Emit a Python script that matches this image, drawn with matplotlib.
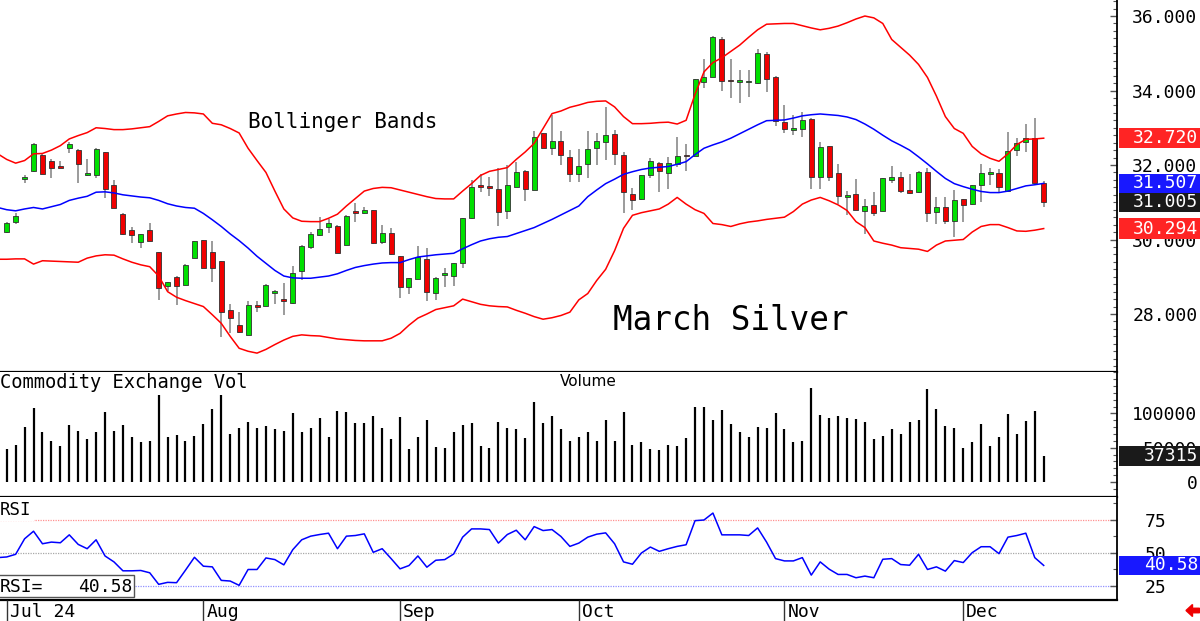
import numpy as np
import matplotlib
matplotlib.use("Agg")
import matplotlib.pyplot as plt
from matplotlib.patches import Rectangle, FancyArrow
from matplotlib.ticker import FixedLocator, MultipleLocator, FuncFormatter
import matplotlib.transforms as mtransforms

# ---------------- data (March Silver, daily, Jul 1 - Dec 13) ----------------
opens = [30.19, 30.48, 31.62, 31.85, 32.27, 32.11, 31.98, 32.45, 32.40, 31.73,
         31.73, 32.34, 31.45, 30.68, 30.25, 29.94, 30.25, 29.66, 28.76, 29.00,
         28.78, 29.51, 29.99, 29.66, 29.42, 28.11, 27.71, 27.44, 28.24, 28.22,
         28.57, 28.40, 28.29, 29.16, 29.79, 30.12, 30.33, 30.37, 29.85, 30.74,
         30.70, 30.79, 29.92, 30.18, 29.56, 28.72, 28.94, 29.48, 28.57, 29.04,
         29.03, 29.36, 30.57, 31.45, 31.41, 31.36, 30.77, 31.42, 31.85, 31.33,
         32.85, 32.45, 32.64, 32.22, 31.76, 32.02, 32.45, 32.63, 32.82, 32.27,
         31.22, 31.08, 31.73, 32.06, 31.79, 32.03, 32.25, 32.24, 34.24, 34.37,
         35.38, 34.27, 34.22, 34.22, 34.19, 34.99, 34.35, 33.16, 32.94, 32.98,
         33.24, 31.67, 32.51, 31.79, 31.15, 31.21, 30.77, 30.93, 30.77, 31.60,
         31.69, 31.33, 31.27, 31.80, 30.73, 30.88, 30.51, 31.09, 30.94, 31.45,
         31.77, 31.78, 31.31, 32.40, 32.61, 32.73, 31.51]
highs = [30.46, 30.70, 31.73, 32.58, 32.31, 32.15, 32.11, 32.63, 32.42, 32.15,
         32.46, 32.36, 31.60, 30.70, 30.33, 30.15, 30.43, 29.67, 28.86, 29.01,
         29.34, 29.97, 30.00, 29.96, 29.43, 28.27, 28.05, 28.35, 28.35, 28.80,
         28.64, 28.82, 29.30, 29.84, 30.21, 30.61, 30.54, 30.38, 30.65, 30.97,
         30.86, 30.80, 30.39, 30.32, 29.57, 28.97, 29.83, 29.76, 28.99, 29.23,
         29.37, 30.58, 31.60, 31.75, 31.67, 31.91, 32.00, 32.09, 31.86, 32.90,
         32.86, 33.34, 32.90, 32.40, 32.44, 32.91, 32.85, 33.57, 32.94, 32.36,
         31.37, 31.74, 32.20, 32.07, 32.22, 32.74, 32.56, 34.32, 34.84, 35.47,
         35.45, 34.84, 34.55, 34.55, 35.11, 35.04, 34.39, 33.61, 33.34, 33.43,
         33.25, 32.63, 32.52, 32.03, 31.31, 31.62, 31.10, 31.27, 31.65, 31.97,
         31.82, 31.76, 31.84, 31.91, 31.13, 31.15, 31.33, 31.10, 31.47, 32.02,
         31.91, 31.89, 32.89, 32.72, 33.10, 33.25, 31.58]
lows = [30.17, 30.42, 31.51, 31.82, 31.76, 31.64, 31.92, 32.33, 31.51, 31.70,
        31.64, 31.12, 30.85, 30.12, 29.90, 29.76, 29.95, 28.38, 28.63, 28.24,
        28.77, 29.50, 29.23, 28.85, 27.37, 27.48, 27.50, 27.43, 28.05, 28.21,
        28.27, 27.97, 28.28, 28.91, 29.75, 30.10, 30.17, 29.64, 29.84, 30.48,
        30.68, 29.89, 29.88, 29.59, 28.42, 28.54, 28.93, 28.36, 28.37, 28.73,
        28.76, 29.23, 30.56, 31.28, 31.18, 30.37, 30.55, 31.41, 31.03, 31.32,
        32.46, 32.27, 32.00, 31.55, 31.55, 31.64, 32.00, 32.13, 32.00, 30.70,
        30.79, 31.07, 31.64, 31.28, 31.35, 31.96, 31.85, 32.23, 34.06, 34.36,
        34.00, 33.79, 33.66, 33.82, 34.18, 33.97, 33.05, 32.87, 32.81, 32.74,
        31.35, 31.35, 31.58, 30.95, 30.66, 30.78, 30.14, 30.63, 30.76, 31.51,
        31.24, 31.23, 31.24, 30.48, 30.41, 30.41, 30.06, 30.46, 30.93, 31.00,
        31.45, 31.24, 31.28, 32.25, 32.34, 31.51, 30.86]
closes = [30.43, 30.63, 31.69, 32.56, 31.76, 31.93, 31.93, 32.56, 32.02, 31.75,
          32.42, 31.35, 30.85, 30.14, 30.12, 30.14, 29.96, 28.71, 28.85, 28.76,
          29.32, 29.96, 29.24, 29.23, 28.05, 27.90, 27.51, 28.24, 28.20, 28.78,
          28.63, 28.35, 29.11, 29.83, 30.14, 30.27, 30.43, 29.65, 30.64, 30.72,
          30.79, 29.90, 30.17, 29.60, 28.72, 28.96, 29.54, 28.60, 28.98, 29.09,
          29.36, 30.57, 31.42, 31.40, 31.39, 30.73, 31.45, 31.82, 31.35, 32.74,
          32.47, 32.64, 32.27, 31.76, 31.98, 32.43, 32.65, 32.80, 32.30, 31.28,
          31.06, 31.73, 32.11, 31.84, 32.06, 32.24, 32.23, 34.31, 34.37, 35.45,
          34.26, 34.25, 34.27, 34.24, 35.02, 34.30, 33.18, 32.96, 32.96, 33.21,
          31.69, 32.49, 31.69, 31.17, 31.19, 30.79, 30.91, 30.70, 31.64, 31.67,
          31.31, 31.24, 31.80, 30.72, 30.86, 30.51, 31.06, 30.93, 31.46, 31.78,
          31.79, 31.42, 32.38, 32.58, 32.73, 31.51, 31.005]
volume = [48200, 54500, 80300, 107600, 72500, 59900, 53000, 83200, 74500, 62800,
          73500, 101700, 74500, 83200, 65200, 58400, 59400, 127000, 66200, 68600,
          59400, 67600, 84200, 106600, 126500, 70100, 79300, 87100, 79300, 81800,
          77400, 74500, 100700, 72500, 79300, 93400, 65200, 103200, 101700, 85600,
          85600, 95900, 78300, 62800, 94900, 48700, 66200, 90000, 51100, 49600,
          72500, 83200, 86100, 52100, 49600, 87600, 78300, 76900, 63800, 117300,
          86600, 95900, 76900, 59400, 65200, 72500, 59900, 90500, 59900, 102200,
          54500, 58400, 47700, 46200, 54500, 52600, 64200, 109500, 109500, 90500,
          105600, 84700, 73500, 65700, 79800, 78300, 101200, 76900, 58400, 59900,
          136800, 97800, 93000, 96400, 93000, 91500, 88100, 62800, 66700, 77400,
          70600, 87100, 90500, 135300, 106600, 82200, 78300, 50100, 58900, 84700,
          53000, 65700, 98800, 70600, 89100, 103200, 37315]
# indicator series start one session earlier (index -1)
upper_band = [32.30,
              32.15, 32.05, 32.12, 32.30, 32.31, 32.40, 32.52, 32.70, 32.79, 32.87,
              33.00, 32.98, 32.95, 32.95, 32.97, 33.00, 33.03, 33.17, 33.32, 33.37,
              33.41, 33.40, 33.37, 33.12, 33.08, 32.98, 32.86, 32.45, 32.12, 31.80,
              31.30, 30.82, 30.58, 30.49, 30.48, 30.48, 30.57, 30.68, 30.90, 31.10,
              31.30, 31.37, 31.40, 31.39, 31.33, 31.27, 31.21, 31.15, 31.10, 31.09,
              31.09, 31.30, 31.50, 31.72, 31.83, 31.88, 31.93, 32.15, 32.35, 32.58,
              32.98, 33.38, 33.45, 33.55, 33.61, 33.68, 33.71, 33.72, 33.56, 33.30,
              33.11, 33.11, 33.12, 33.14, 33.15, 33.10, 33.20, 33.90, 34.50, 34.75,
              34.88, 35.05, 35.22, 35.43, 35.63, 35.78, 35.79, 35.80, 35.80, 35.74,
              35.68, 35.63, 35.67, 35.73, 35.82, 35.92, 36.00, 35.95, 35.80, 35.37,
              35.16, 34.95, 34.70, 34.35, 33.85, 33.30, 32.98, 32.85, 32.50, 32.30,
              32.18, 32.10, 32.30, 32.55, 32.69, 32.70, 32.72]
middle_band = [30.86,
               30.80, 30.77, 30.82, 30.86, 30.82, 30.88, 30.94, 31.05, 31.11, 31.16,
               31.27, 31.28, 31.25, 31.20, 31.17, 31.14, 31.12, 31.05, 30.96, 30.90,
               30.86, 30.84, 30.70, 30.53, 30.35, 30.15, 29.97, 29.77, 29.55, 29.36,
               29.17, 29.02, 28.97, 28.96, 28.96, 28.99, 29.02, 29.08, 29.17, 29.25,
               29.30, 29.34, 29.37, 29.38, 29.38, 29.46, 29.53, 29.56, 29.59, 29.61,
               29.63, 29.75, 29.86, 29.96, 30.02, 30.06, 30.08, 30.16, 30.24, 30.32,
               30.43, 30.54, 30.66, 30.78, 30.90, 31.15, 31.33, 31.50, 31.62, 31.75,
               31.82, 31.88, 31.92, 31.94, 31.96, 32.02, 32.09, 32.28, 32.45, 32.54,
               32.62, 32.72, 32.84, 32.96, 33.08, 33.19, 33.20, 33.21, 33.26, 33.32,
               33.35, 33.37, 33.35, 33.33, 33.29, 33.22, 33.10, 32.96, 32.80, 32.65,
               32.53, 32.40, 32.22, 32.03, 31.83, 31.64, 31.50, 31.42, 31.35, 31.29,
               31.26, 31.26, 31.30, 31.37, 31.44, 31.47, 31.507]
lower_band = [29.47,
              29.47, 29.48, 29.48, 29.34, 29.43, 29.42, 29.41, 29.40, 29.39, 29.50,
              29.56, 29.59, 29.58, 29.48, 29.39, 29.32, 29.27, 29.02, 28.60, 28.45,
              28.36, 28.28, 28.20, 27.98, 27.75, 27.40, 27.08, 27.00, 26.95, 27.05,
              27.18, 27.30, 27.40, 27.44, 27.42, 27.41, 27.37, 27.33, 27.31, 27.29,
              27.28, 27.28, 27.28, 27.35, 27.48, 27.70, 27.89, 28.00, 28.12, 28.17,
              28.22, 28.40, 28.33, 28.26, 28.22, 28.20, 28.19, 28.10, 28.02, 27.93,
              27.86, 27.90, 27.96, 28.05, 28.38, 28.55, 28.90, 29.20, 29.70, 30.30,
              30.65, 30.72, 30.77, 30.82, 30.95, 31.13, 30.95, 30.80, 30.70, 30.43,
              30.40, 30.35, 30.42, 30.47, 30.50, 30.54, 30.57, 30.60, 30.75, 30.95,
              31.06, 31.13, 31.04, 30.93, 30.78, 30.48, 30.32, 29.96, 29.90, 29.85,
              29.78, 29.76, 29.74, 29.68, 29.85, 29.96, 29.98, 30.00, 30.20, 30.35,
              30.40, 30.40, 30.32, 30.23, 30.22, 30.25, 30.294]
rsi = [46.5,
       47.0, 49.0, 60.75, 66.5, 57.0, 58.25, 57.75, 63.75, 56.5, 53.25,
       60.0, 47.75, 43.25, 36.5, 36.5, 36.75, 35.0, 26.25, 27.75, 27.5,
       37.0, 46.75, 40.0, 39.5, 29.25, 28.75, 25.5, 37.5, 37.5, 46.25,
       45.0, 41.0, 52.5, 60.0, 62.75, 64.0, 65.0, 53.25, 62.75, 63.25,
       64.5, 50.5, 53.25, 45.75, 38.0, 40.5, 47.75, 39.25, 44.5, 45.0,
       49.25, 62.0, 68.25, 68.25, 67.75, 57.5, 64.0, 67.25, 60.0, 70.0,
       67.0, 67.75, 62.5, 55.0, 57.5, 62.0, 64.25, 65.25, 57.0, 43.25,
       41.5, 50.0, 54.5, 51.25, 53.25, 55.0, 56.25, 74.5, 75.0, 80.25,
       63.75, 63.75, 63.75, 63.25, 69.0, 58.25, 45.75, 44.0, 44.0, 46.5,
       33.25, 43.25, 37.75, 33.75, 33.75, 31.25, 32.5, 31.25, 45.25, 45.75,
       41.25, 40.75, 49.0, 37.5, 39.5, 36.25, 44.25, 42.75, 50.25, 54.75,
       54.75, 49.5, 62.0, 63.25, 65.0, 46.5, 40.58]
month_labels = ["Jul 24", "Aug", "Sep", "Oct", "Nov", "Dec"]
month_index = [0, 22, 44, 64, 87, 107]
price_ticks = [28, 30, 32, 34, 36]
volume_ticks = [0, 50000, 100000]
rsi_ticks = [25, 50, 75]
rsi_levels = [75, 50, 25]

# ---------------- figure layout ----------------
plt.rcParams['font.family'] = ['DejaVu Sans Mono', 'DejaVu Sans']
W, H = 1200, 621
fig = plt.figure(figsize=(12, 6.21), dpi=100)
fig.patch.set_facecolor('white')
PLOT_R = 1117


def rect(top, bottom):
    return [0, (H - bottom) / H, PLOT_R / W, (bottom - top) / H]


ax_p = fig.add_axes(rect(0, 372))
ax_v = fig.add_axes(rect(372, 497), sharex=ax_p)
ax_r = fig.add_axes(rect(497, 600), sharex=ax_p)
ax_d = fig.add_axes(rect(600, 621), sharex=ax_p)

o = np.array(opens); h = np.array(highs); l = np.array(lows); c = np.array(closes)
x = np.arange(len(c))
xi = np.arange(-1, len(c))

# ---------------- price panel ----------------
up = c >= o
cols = np.where(up, '#00e000', '#f00000')
ax_p.vlines(x, l, h, color='#808080', lw=1.1, zorder=2)
ax_p.bar(x, np.maximum(np.abs(c - o), 0.045), bottom=np.minimum(o, c), width=0.56,
         color=cols, edgecolor='#303030', linewidth=0.6, zorder=3)
ax_p.plot(xi, upper_band, color='#ff0000', lw=1.1, zorder=4)
ax_p.plot(xi, lower_band, color='#ff0000', lw=1.1, zorder=4)
ax_p.plot(xi, middle_band, color='#0000ff', lw=1.1, zorder=4)
ax_p.text(248 / PLOT_R, 1 - 122 / 372, 'Bollinger Bands', transform=ax_p.transAxes,
          fontsize=15, va='center', ha='left')
ax_p.text(613 / PLOT_R, 1 - 321 / 372, 'March Silver', transform=ax_p.transAxes,
          fontsize=23.5, va='center', ha='left')

# ---------------- volume panel ----------------
ax_v.vlines(x, 0, volume, color='black', lw=1.6)
ax_v.text(0.0, (497 - 383) / 125, 'Commodity Exchange Vol', transform=ax_v.transAxes,
          fontsize=13.5, va='center', ha='left')
ax_v.text(560 / PLOT_R, (497 - 382) / 125, 'Volume', transform=ax_v.transAxes,
          fontsize=11, va='center', ha='left', family='DejaVu Sans')

# ---------------- RSI panel ----------------
for lev, lc in zip(rsi_levels, ['#ff9090', '#a8a8a8', '#9090ff']):
    ax_r.axhline(lev, color=lc, lw=0.9, ls=(0, (1, 1)), zorder=1)
ax_r.plot(xi, rsi, color='#0000ff', lw=1.1, zorder=3)
ax_r.text(0.0, (600 - 510) / 103, 'RSI', transform=ax_r.transAxes, fontsize=12.5,
          va='center', ha='left', zorder=6,
          bbox=dict(facecolor='white', edgecolor='none', pad=1.5))
ax_r.add_patch(Rectangle((-0.01, 3 / 103), 0.01 + 134 / PLOT_R, 22 / 103,
                         transform=ax_r.transAxes, facecolor='white',
                         edgecolor='#555555', lw=1.0, zorder=5, clip_on=False))
ax_r.text(0.0, (600 - 587) / 103, 'RSI=', transform=ax_r.transAxes, fontsize=13,
          va='center', ha='left', zorder=6)
ax_r.text(132 / PLOT_R, (600 - 587) / 103, f'{rsi[-1]:.2f}', transform=ax_r.transAxes,
          fontsize=13, va='center', ha='right', zorder=6)

# ---------------- axes styling ----------------
XLIM = (-0.75, 124.2)
ax_p.set_xlim(*XLIM)
ax_p.set_ylim(26.443, 36.43)
ax_v.set_ylim(-21898, 160584)
ax_r.set_ylim(14.39, 92.42)

for ax in (ax_p, ax_v, ax_r):
    ax.set_facecolor('white')
    ax.spines['top'].set_visible(False)
    ax.spines['left'].set_visible(False)
    ax.spines['right'].set_linewidth(1.3)
    ax.spines['bottom'].set_linewidth(1.6)
    ax.yaxis.tick_right()
    ax.tick_params(axis='x', which='both', bottom=False, labelbottom=False)
    ax.tick_params(axis='y', which='both', direction='in', color='#555555',
                   labelsize=13, labelcolor='black')
    ax.tick_params(axis='y', which='major', length=5, width=1)
    ax.tick_params(axis='y', which='minor', length=3, width=0.8)

ax_p.yaxis.set_major_locator(FixedLocator(price_ticks))
ax_p.yaxis.set_major_formatter(FuncFormatter(lambda v, p: f'{v:.3f}'))
ax_p.yaxis.set_minor_locator(MultipleLocator(0.2))
ax_p.tick_params(axis='y', which='major', pad=58)

ax_v.yaxis.set_major_locator(FixedLocator(volume_ticks))
ax_v.yaxis.set_major_formatter(FuncFormatter(lambda v, p: f'{int(v)}'))
ax_v.yaxis.set_minor_locator(MultipleLocator(10000))
ax_v.tick_params(axis='y', which='major', pad=58)

ax_r.yaxis.set_major_locator(FixedLocator(rsi_ticks))
ax_r.yaxis.set_major_formatter(FuncFormatter(lambda v, p: f'{int(v)}'))
ax_r.yaxis.set_minor_locator(MultipleLocator(12.5))
ax_r.tick_params(axis='y', which='major', pad=20)

for ax in (ax_p, ax_v):
    for lbl in ax.get_yticklabels():
        lbl.set_horizontalalignment('right')

# ---------------- last-value boxes ----------------
def value_box(ax, value, text, color, half):
    tr = ax.get_yaxis_transform()
    ax.add_patch(Rectangle((1.0015, value - half), 82 / PLOT_R, 2 * half, transform=tr,
                           facecolor=color, edgecolor='none', clip_on=False, zorder=10))
    ax.text(1198 / PLOT_R, value, text, transform=tr, ha='right', va='center',
            color='white', fontsize=13, zorder=11, clip_on=False)


value_box(ax_p, upper_band[-1], f'{upper_band[-1]:.3f}', '#ff2424', 0.27)
value_box(ax_p, lower_band[-1], f'{lower_band[-1]:.3f}', '#ff2424', 0.27)
value_box(ax_p, middle_band[-1], f'{middle_band[-1]:.3f}', '#1818ff', 0.255)
value_box(ax_p, closes[-1], f'{closes[-1]:.3f}', '#1a1a1a', 0.255)
value_box(ax_v, volume[-1], f'{volume[-1]}', '#1a1a1a', 14600)
value_box(ax_r, rsi[-1], f'{rsi[-1]:.2f}', '#1818ff', 7.2)

# ---------------- date strip ----------------
ax_d.set_ylim(0, 1)
ax_d.axis('off')
ax_d.vlines(month_index, 0, 1, color='#333333', lw=1.0)
tr_d = ax_d.get_xaxis_transform() + mtransforms.ScaledTranslation(3 / 100, 0, fig.dpi_scale_trans)
for mi, ml in zip(month_index, month_labels):
    ax_d.text(mi, 0.42, ml, transform=tr_d, fontsize=13, ha='left', va='center')

# red arrow bottom right
fig.patches.append(FancyArrow(11.995, 0.105, -0.135, 0, width=0.045, head_width=0.12,
                              head_length=0.065, length_includes_head=True,
                              color='#ee0000', transform=fig.dpi_scale_trans,
                              figure=fig))

fig.savefig('out.png', dpi=100, facecolor='white')
